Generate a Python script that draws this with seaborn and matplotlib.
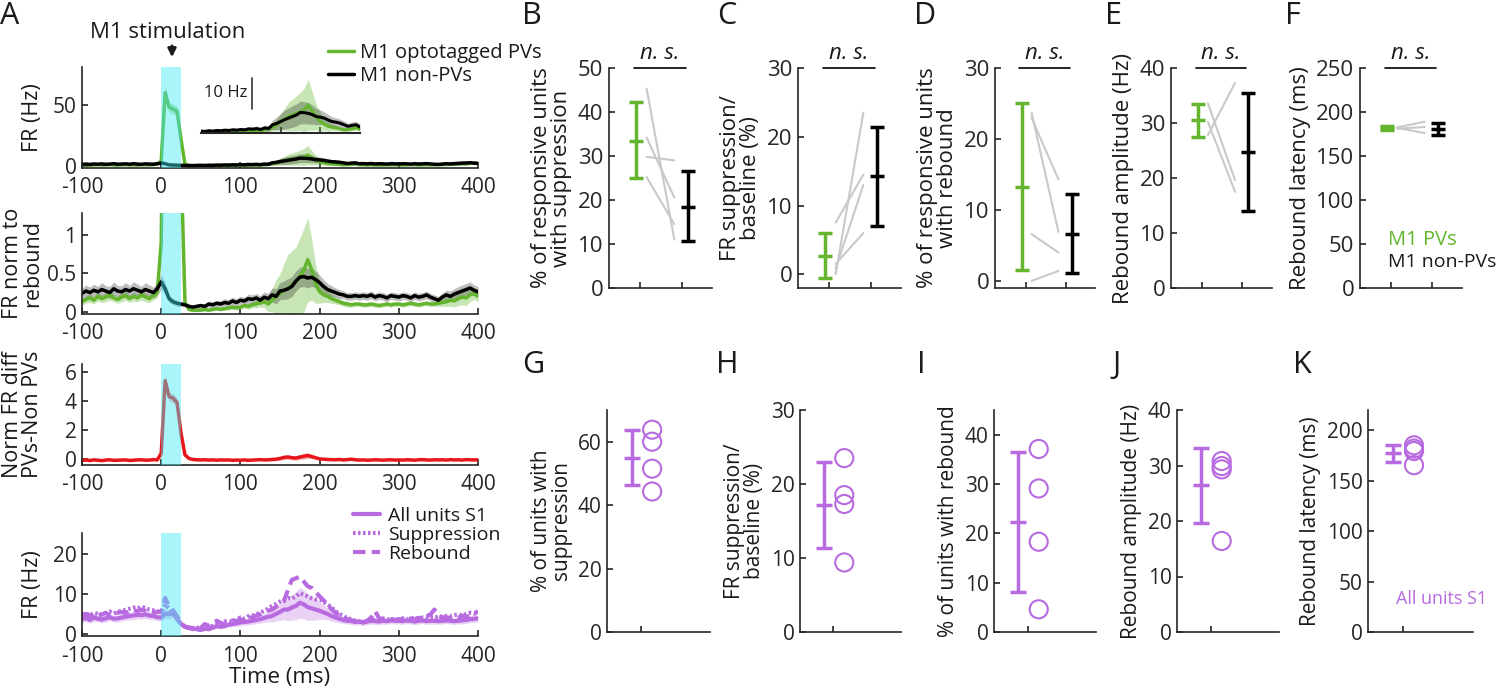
import numpy as np
import pandas as pd
import matplotlib
matplotlib.use("Agg")
import matplotlib.pyplot as plt
import seaborn as sns

# time bins (ms), 5 ms resolution
t_ms = np.arange(-100, 405, 5)

# ---- panel A, top: FR (Hz) of M1 PVs / non-PVs ----
fr_pv = [0.8, 1.0, 0.7, 0.9, 1.1, 0.8, 1.0, 1.2, 0.9, 0.8,
         1.0, 1.1, 0.9, 1.0, 0.8, 1.1, 1.0, 0.9, 1.2, 1.5,
         4.0, 60.0, 48.0, 46.5, 45.0, 22.0, 1.5, 0.3, 0.2, 0.2,
         0.2, 0.3, 0.2, 0.3, 0.3, 0.4, 0.4, 0.5, 0.6, 0.5,
         0.6, 0.7, 0.6, 0.8, 0.7, 0.9, 1.0, 1.3, 1.8, 2.5,
         3.6, 4.3, 5.2, 5.7, 6.2, 6.8, 7.3, 8.9, 6.8, 5.0,
         3.6, 2.8, 2.1, 1.8, 1.6, 1.3, 1.0, 1.1, 1.3, 1.6,
         1.1, 1.0, 0.9, 1.0, 0.9, 0.8, 0.9, 1.0, 0.9, 1.0,
         1.0, 0.9, 1.0, 1.1, 1.0, 0.9, 1.0, 1.1, 1.0, 1.0,
         1.1, 1.2, 1.3, 1.5, 1.4, 1.7, 1.9, 1.8, 2.2, 2.4,
         2.0]
fr_pv_sem = [0.4, 0.4, 0.3, 0.4, 0.5, 0.4, 0.4, 0.5, 0.4, 0.4,
             0.4, 0.5, 0.4, 0.4, 0.4, 0.5, 0.4, 0.4, 0.5, 0.6,
             1.0, 6.0, 4.0, 4.0, 4.0, 3.0, 0.8, 0.2, 0.2, 0.2,
             0.2, 0.2, 0.2, 0.2, 0.2, 0.3, 0.3, 0.3, 0.3, 0.3,
             0.3, 0.4, 0.4, 0.4, 0.4, 0.5, 0.6, 0.8, 1.2, 1.8,
             2.5, 3.5, 4.5, 5.0, 5.5, 6.0, 7.0, 8.0, 6.0, 4.0,
             3.0, 2.0, 1.5, 1.0, 0.8, 0.7, 0.6, 0.6, 0.6, 0.6,
             0.5, 0.5, 0.5, 0.5, 0.5, 0.5, 0.5, 0.5, 0.5, 0.5,
             0.5, 0.5, 0.5, 0.5, 0.5, 0.5, 0.5, 0.5, 0.5, 0.5,
             0.6, 0.7, 0.8, 0.9, 0.9, 1.0, 1.1, 1.1, 1.0, 0.9,
             0.8]
fr_non = [1.4, 1.6, 1.3, 1.7, 1.5, 1.8, 1.4, 1.6, 1.9, 1.5,
          1.6, 1.8, 1.5, 1.9, 1.6, 1.4, 1.8, 1.6, 1.5, 1.9,
          2.5, 1.9, 1.0, 0.8, 0.7, 0.6, 0.5, 0.5, 0.4, 0.5,
          0.6, 0.5, 0.7, 0.6, 0.8, 0.7, 0.9, 0.8, 1.0, 0.9,
          1.1, 1.0, 1.3, 1.2, 1.4, 1.1, 1.6, 1.4, 2.6, 3.0,
          3.6, 4.2, 4.7, 5.2, 5.7, 6.5, 6.4, 6.2, 5.8, 5.2,
          5.0, 4.7, 4.1, 3.6, 3.4, 3.1, 2.6, 2.1, 2.4, 2.6,
          1.9, 2.0, 1.8, 2.1, 1.7, 1.9, 1.8, 1.6, 1.9, 1.8,
          1.7, 1.9, 1.8, 1.6, 1.9, 1.7, 1.8, 2.0, 1.7, 1.5,
          1.3, 1.6, 1.9, 1.7, 2.0, 2.2, 2.4, 2.5, 2.7, 2.4,
          2.2]
fr_non_sem = [0.8, 0.9, 0.8, 0.9, 0.8, 1.0, 0.8, 0.9, 1.0, 0.8,
              0.9, 1.0, 0.8, 1.0, 0.9, 0.8, 1.0, 0.9, 0.8, 1.0,
              1.1, 0.9, 0.5, 0.4, 0.4, 0.3, 0.3, 0.3, 0.3, 0.3,
              0.4, 0.3, 0.4, 0.4, 0.5, 0.4, 0.5, 0.5, 0.6, 0.5,
              0.6, 0.6, 0.7, 0.7, 0.8, 0.7, 0.9, 0.9, 1.5, 2.0,
              2.5, 3.0, 3.2, 3.4, 3.5, 3.6, 3.5, 3.4, 3.0, 2.6,
              2.3, 2.0, 1.8, 1.5, 1.4, 1.3, 1.2, 1.0, 1.1, 1.1,
              0.9, 0.9, 0.9, 1.0, 0.9, 0.9, 0.9, 0.8, 0.9, 0.9,
              0.9, 0.9, 0.9, 0.8, 0.9, 0.9, 0.9, 1.0, 0.9, 0.8,
              0.8, 0.9, 1.0, 1.0, 1.1, 1.2, 1.2, 1.3, 1.3, 1.2,
              1.1]

# ---- panel A, 2nd: FR normalised to rebound ----
norm_pv = [0.13, 0.16, 0.18, 0.15, 0.20, 0.17, 0.19, 0.22, 0.18, 0.16,
           0.19, 0.21, 0.17, 0.20, 0.18, 0.22, 0.19, 0.17, 0.21, 0.25,
           0.9, 5.8, 4.6, 4.4, 4.2, 2.0, 0.12, 0.03, 0.02, 0.02,
           0.02, 0.03, 0.02, 0.03, 0.04, 0.03, 0.04, 0.05, 0.06, 0.05,
           0.06, 0.08, 0.07, 0.09, 0.10, 0.12, 0.13, 0.10, 0.15, 0.20,
           0.24, 0.28, 0.30, 0.35, 0.39, 0.46, 0.54, 0.68, 0.55, 0.36,
           0.26, 0.22, 0.20, 0.17, 0.15, 0.13, 0.11, 0.10, 0.09, 0.10,
           0.10, 0.09, 0.09, 0.10, 0.09, 0.08, 0.09, 0.10, 0.09, 0.10,
           0.10, 0.09, 0.10, 0.11, 0.10, 0.09, 0.10, 0.11, 0.10, 0.10,
           0.11, 0.12, 0.13, 0.15, 0.14, 0.17, 0.19, 0.18, 0.22, 0.24,
           0.20]
norm_pv_sem = [0.05, 0.05, 0.06, 0.05, 0.06, 0.05, 0.06, 0.07, 0.05, 0.05,
               0.06, 0.06, 0.05, 0.06, 0.05, 0.07, 0.06, 0.05, 0.06, 0.07,
               0.1, 0.6, 0.4, 0.4, 0.4, 0.3, 0.05, 0.02, 0.02, 0.02,
               0.02, 0.02, 0.02, 0.02, 0.02, 0.02, 0.02, 0.03, 0.03, 0.03,
               0.03, 0.03, 0.04, 0.04, 0.05, 0.06, 0.08, 0.10, 0.15, 0.22,
               0.25, 0.35, 0.45, 0.45, 0.45, 0.50, 0.55, 0.55, 0.40, 0.25,
               0.15, 0.10, 0.08, 0.06, 0.05, 0.04, 0.04, 0.04, 0.03, 0.03,
               0.03, 0.03, 0.03, 0.03, 0.03, 0.03, 0.03, 0.03, 0.03, 0.03,
               0.03, 0.03, 0.03, 0.03, 0.03, 0.03, 0.03, 0.03, 0.03, 0.03,
               0.04, 0.05, 0.06, 0.08, 0.08, 0.09, 0.10, 0.10, 0.09, 0.08,
               0.07]
norm_non = [0.24, 0.27, 0.25, 0.28, 0.26, 0.29, 0.27, 0.25, 0.30, 0.27,
            0.26, 0.29, 0.27, 0.30, 0.28, 0.26, 0.29, 0.27, 0.25, 0.30,
            0.39, 0.30, 0.17, 0.13, 0.11, 0.10, 0.09, 0.07, 0.06, 0.07,
            0.08, 0.07, 0.10, 0.09, 0.11, 0.10, 0.12, 0.11, 0.14, 0.12,
            0.15, 0.14, 0.17, 0.16, 0.18, 0.15, 0.19, 0.17, 0.22, 0.20,
            0.27, 0.28, 0.30, 0.33, 0.40, 0.45, 0.46, 0.44, 0.45, 0.42,
            0.38, 0.33, 0.29, 0.27, 0.25, 0.23, 0.22, 0.20, 0.20, 0.21,
            0.20, 0.21, 0.20, 0.22, 0.19, 0.21, 0.20, 0.18, 0.21, 0.20,
            0.19, 0.21, 0.20, 0.18, 0.21, 0.19, 0.20, 0.22, 0.19, 0.17,
            0.15, 0.19, 0.22, 0.20, 0.23, 0.25, 0.27, 0.29, 0.31, 0.28,
            0.26]
norm_non_sem = [0.07, 0.08, 0.07, 0.08, 0.07, 0.09, 0.07, 0.08, 0.09, 0.07,
                0.08, 0.09, 0.07, 0.09, 0.08, 0.07, 0.09, 0.08, 0.07, 0.09,
                0.10, 0.08, 0.05, 0.04, 0.04, 0.03, 0.03, 0.03, 0.03, 0.03,
                0.03, 0.03, 0.04, 0.04, 0.04, 0.04, 0.05, 0.05, 0.05, 0.05,
                0.05, 0.05, 0.06, 0.06, 0.06, 0.06, 0.07, 0.07, 0.09, 0.10,
                0.11, 0.12, 0.13, 0.13, 0.13, 0.13, 0.13, 0.13, 0.12, 0.11,
                0.10, 0.09, 0.08, 0.07, 0.06, 0.06, 0.05, 0.05, 0.05, 0.05,
                0.05, 0.05, 0.05, 0.05, 0.05, 0.05, 0.05, 0.05, 0.05, 0.05,
                0.05, 0.05, 0.05, 0.05, 0.05, 0.05, 0.05, 0.05, 0.05, 0.05,
                0.05, 0.06, 0.06, 0.07, 0.07, 0.08, 0.08, 0.08, 0.08, 0.07,
                0.07]

# ---- panel A, 3rd: normalised FR difference PVs - non-PVs ----
norm_diff = [-0.08, -0.06, -0.09, -0.05, -0.07, -0.10, -0.06, -0.04, -0.08, -0.07,
             -0.06, -0.05, -0.09, -0.07, -0.05, -0.04, -0.07, -0.06, -0.03, -0.05,
             0.4, 5.4, 4.3, 4.2, 3.9, 1.8, 0.3, 0.05, -0.02, -0.04,
             -0.05, -0.04, -0.06, -0.05, -0.07, -0.05, -0.06, -0.05, -0.08, -0.06,
             -0.07, -0.05, -0.08, -0.06, -0.05, -0.03, -0.05, -0.04, -0.02, 0.0,
             0.05, 0.12, 0.15, 0.10, 0.08, 0.14, 0.20, 0.25, 0.18, 0.10,
             0.02, 0.0, -0.02, -0.03, -0.04, -0.02, -0.05, -0.03, 0.0, -0.04,
             -0.06, -0.05, -0.07, -0.06, -0.04, -0.05, -0.07, -0.05, -0.04, -0.06,
             -0.05, -0.06, -0.04, -0.05, -0.07, -0.04, -0.03, -0.05, -0.06, -0.04,
             -0.05, -0.04, -0.06, -0.03, -0.05, -0.04, -0.06, -0.03, -0.04, -0.05,
             -0.04]
norm_diff_sem = [0.05, 0.05, 0.05, 0.05, 0.05, 0.05, 0.05, 0.05, 0.05, 0.05,
                 0.05, 0.05, 0.05, 0.05, 0.05, 0.05, 0.05, 0.05, 0.05, 0.06,
                 0.10, 0.40, 0.30, 0.30, 0.30, 0.20, 0.06, 0.04, 0.03, 0.03,
                 0.03, 0.03, 0.03, 0.03, 0.03, 0.03, 0.03, 0.03, 0.03, 0.03,
                 0.03, 0.03, 0.03, 0.03, 0.04, 0.04, 0.05, 0.06, 0.08, 0.10,
                 0.12, 0.15, 0.15, 0.15, 0.16, 0.18, 0.20, 0.20, 0.15, 0.10,
                 0.08, 0.06, 0.05, 0.04, 0.04, 0.04, 0.04, 0.04, 0.04, 0.04,
                 0.04, 0.04, 0.04, 0.04, 0.04, 0.04, 0.04, 0.04, 0.04, 0.04,
                 0.04, 0.04, 0.04, 0.04, 0.04, 0.04, 0.04, 0.04, 0.04, 0.04,
                 0.04, 0.04, 0.04, 0.04, 0.04, 0.04, 0.04, 0.04, 0.04, 0.04,
                 0.04]

# ---- panel A, bottom: S1 units (Hz) ----
s1_all = [3.7, 4.0, 3.5, 4.1, 3.8, 3.6, 3.9, 4.2, 3.8, 3.9,
          4.1, 4.3, 4.5, 4.6, 4.8, 4.7, 4.9, 4.6, 4.5, 4.2,
          4.1, 5.1, 4.9, 5.3, 3.7, 2.5, 1.8, 1.6, 1.5, 1.2,
          1.0, 1.3, 1.2, 1.6, 2.0, 1.8, 2.0, 2.3, 2.5, 2.6,
          2.9, 3.0, 3.1, 3.3, 3.5, 3.7, 4.0, 4.3, 4.5, 5.0,
          5.5, 6.1, 6.1, 6.6, 7.0, 7.8, 7.4, 6.7, 6.4, 6.1,
          5.8, 5.4, 5.0, 4.5, 4.1, 3.8, 3.5, 3.3, 3.2, 3.0,
          3.1, 2.9, 3.1, 3.3, 3.2, 3.1, 3.3, 3.2, 3.4, 3.3,
          3.3, 3.2, 3.4, 3.3, 3.1, 3.3, 3.4, 3.2, 3.3, 3.3,
          3.2, 3.3, 3.4, 3.3, 3.2, 3.3, 3.4, 3.5, 3.7, 3.8,
          3.9]
s1_all_sem = [0.8, 0.9, 0.8, 0.9, 0.8, 0.8, 0.9, 0.9, 0.8, 0.9,
              0.9, 0.9, 1.0, 1.0, 1.0, 1.0, 1.0, 1.0, 0.9, 0.9,
              0.9, 1.2, 1.1, 1.1, 0.9, 0.6, 0.5, 0.5, 0.5, 0.4,
              0.4, 0.4, 0.4, 0.5, 0.6, 0.5, 0.6, 0.6, 0.7, 0.7,
              0.8, 0.8, 0.8, 0.9, 0.9, 1.0, 1.1, 1.3, 1.5, 1.8,
              2.1, 2.5, 2.8, 3.1, 3.5, 3.8, 3.6, 3.3, 3.0, 2.6,
              2.2, 1.8, 1.5, 1.3, 1.1, 1.0, 0.9, 0.8, 0.8, 0.8,
              0.8, 0.8, 0.8, 0.8, 0.8, 0.8, 0.8, 0.8, 0.8, 0.8,
              0.8, 0.8, 0.8, 0.8, 0.8, 0.8, 0.8, 0.8, 0.8, 0.8,
              0.8, 0.8, 0.8, 0.8, 0.8, 0.8, 0.9, 0.9, 0.9, 0.9,
              0.9]
s1_supp = [4.9, 5.2, 4.6, 5.3, 5.0, 4.8, 5.3, 5.6, 5.1, 5.5,
           5.8, 6.0, 6.3, 6.6, 6.4, 6.8, 6.5, 6.1, 5.9, 5.6,
           5.6, 7.4, 6.2, 4.9, 4.1, 2.5, 1.8, 1.5, 1.4, 1.6,
           1.4, 1.8, 1.6, 2.1, 2.6, 2.4, 3.1, 3.3, 3.0, 3.6,
           4.1, 3.8, 4.4, 4.6, 4.9, 5.3, 5.8, 6.3, 7.0, 7.5,
           8.1, 8.6, 9.0, 8.8, 9.4, 10.2, 9.8, 9.4, 8.9, 8.6,
           8.6, 8.0, 7.4, 6.6, 5.7, 5.0, 4.5, 3.9, 3.7, 3.3,
           3.1, 2.9, 3.2, 3.7, 3.4, 3.6, 3.9, 3.7, 3.5, 3.8,
           3.7, 3.9, 3.6, 4.1, 3.8, 4.0, 4.1, 3.9, 4.2, 4.1,
           4.3, 4.0, 4.5, 4.4, 4.7, 4.9, 4.6, 5.0, 5.3, 5.1,
           5.3]
s1_reb = [4.6, 5.0, 4.4, 5.1, 4.7, 4.9, 5.2, 4.8, 5.0, 5.3,
          5.5, 5.2, 5.8, 6.0, 5.7, 6.1, 5.8, 5.5, 5.2, 5.6,
          5.5, 9.0, 6.8, 5.9, 4.4, 2.6, 1.8, 1.5, 1.2, 1.4,
          1.5, 2.5, 2.0, 2.6, 3.3, 2.8, 2.4, 2.9, 3.4, 3.2,
          3.7, 3.5, 3.9, 4.2, 4.6, 4.9, 5.4, 5.8, 6.1, 6.8,
          7.4, 8.2, 11.0, 13.5, 13.9, 14.3, 13.1, 11.9, 11.5, 10.4,
          9.4, 8.4, 7.4, 6.2, 5.3, 4.6, 4.0, 3.7, 3.4, 3.2,
          3.0, 2.9, 3.3, 4.1, 5.7, 4.0, 3.6, 3.8, 3.7, 3.5,
          3.7, 3.6, 3.9, 3.8, 3.6, 4.0, 3.9, 4.4, 4.9, 6.1,
          4.6, 4.2, 4.1, 4.0, 4.3, 4.1, 4.5, 4.2, 4.6, 5.2,
          5.6]

# ---- panels B-F: mean, lower, upper; paired session values ----
b_pv, b_non = [33.5, 25.0, 42.2], [18.5, 10.6, 26.6]
b_pairs_pv, b_pairs_non = [45.3, 34.2, 29.8, 25.2], [11.0, 20.5, 29.0, 14.5]
c_pv, c_non = [2.6, -0.6, 6.0], [14.3, 7.0, 21.4]
c_pairs_pv, c_pairs_non = [7.5, 0.0, 0.8, 1.5], [14.5, 23.5, 13.0, 6.0]
d_pv, d_non = [13.3, 1.6, 25.0], [6.6, 1.1, 12.2]
d_pairs_pv, d_pairs_non = [23.7, 23.0, 6.6, 0.0], [6.9, 14.3, 4.0, 1.4]
e_pv, e_non = [30.5, 27.5, 33.5], [24.8, 14.0, 35.5]
e_pairs_pv, e_pairs_non = [27.8, 33.6, 30.2], [37.3, 19.6, 17.5]
f_pv, f_non = [182.0, 180.0, 184.0], [181.0, 174.0, 188.0]
f_pairs_pv, f_pairs_non = [182.5, 182.0, 181.0], [189.0, 176.0, 183.0]

# ---- panels G-K: all S1 units ----
g_s1, g_pts = [54.8, 46.2, 63.8], [63.8, 60.0, 51.5, 44.3]
h_s1, h_pts = [17.2, 11.3, 23.0], [23.5, 18.5, 17.3, 9.4]
i_s1, i_pts = [22.2, 8.2, 36.4], [37.1, 29.1, 18.3, 4.6]
j_s1, j_pts = [26.4, 19.7, 33.2], [30.8, 29.9, 29.3, 16.4]
k_s1, k_pts = [177.0, 168.7, 185.0], [185.0, 181.7, 179.3, 165.3]

GREEN = "#64b52e"
PURPLE = "#b86ae0"
RED = "#e8161b"
CYAN = "#42e9f4"
GREY = "#c9c9c9"

sns.set_theme(style="ticks")
plt.rcParams["font.family"] = ["Open Sans", "DejaVu Sans"]
plt.rcParams.update({
    "xtick.direction": "in", "ytick.direction": "in",
    "xtick.major.size": 4, "ytick.major.size": 4,
    "xtick.major.width": 1.2, "ytick.major.width": 1.2,
    "xtick.major.pad": 6.5, "ytick.major.pad": 4,
    "axes.linewidth": 1.2, "axes.edgecolor": "#262626",
    "xtick.labelsize": 16, "ytick.labelsize": 16,
    "axes.labelsize": 16, "text.color": "#1a1a1a",
    "axes.labelcolor": "#1a1a1a", "axes.unicode_minus": False,
})

W, H = 1500, 691
fig = plt.figure(figsize=(15, 6.91), dpi=100)


def px_axes(x0, y0, x1, y1):
    return fig.add_axes([x0 / W, 1 - y1 / H, (x1 - x0) / W, (y1 - y0) / H])


def trace(ax, y, sem, color, lw=2.5, shade=True, alpha=0.35, **kw):
    y = np.asarray(y)
    sem = np.asarray(sem)
    if shade:
        ax.fill_between(t_ms, y - sem, y + sem, color=color, alpha=alpha, lw=0)
    return sns.lineplot(x=t_ms, y=y, ax=ax, color=color, lw=lw, **kw)


def time_axis(ax, ylim, yticks, ylabel):
    ax.axvspan(0, 25, color=CYAN, alpha=0.45, lw=0, zorder=5)
    ax.set_xlim(-100, 400)
    ax.set_ylim(*ylim)
    ax.set_yticks(yticks)
    ax.set_xticks([-100, 0, 100, 200, 300, 400])
    ax.tick_params(labelsize=15)
    ax.set_ylabel(ylabel, linespacing=0.95, fontsize=15.5)
    sns.despine(ax=ax)


# A1
ax1 = px_axes(82, 67, 478, 168)
trace(ax1, fr_pv, fr_pv_sem, GREEN, label="M1 optotagged PVs")
trace(ax1, fr_non, fr_non_sem, "black", alpha=0.25, label="M1 non-PVs")
time_axis(ax1, (-1.6, 81), [0, 50], "FR (Hz)")
ax1.legend(loc="upper left", bbox_to_anchor=(0.6, 1.32), frameon=False,
           fontsize=14.5, handlelength=1.3, handletextpad=0.3, labelspacing=0.15,
           borderaxespad=0)

# inset with the rebound
axi = px_axes(201, 76, 360, 133)
axi.patch.set_alpha(0)
win = (t_ms >= 50) & (t_ms <= 250)
for y, s, c, a in [(fr_pv, fr_pv_sem, GREEN, 0.35), (fr_non, fr_non_sem, "black", 0.25)]:
    y = np.asarray(y)[win]
    s = np.asarray(s)[win]
    axi.fill_between(t_ms[win], y - s, y + s, color=c, alpha=a, lw=0)
    axi.plot(t_ms[win], y, color=c, lw=2.2)
axi.set_xlim(50, 250)
axi.set_ylim(0, 18)
axi.set_xticks([150, 200])
axi.set_xticklabels([])
axi.set_yticks([])
axi.spines["bottom"].set_linewidth(1.5)
for side in ["left", "top", "right"]:
    axi.spines[side].set_visible(False)
axi.plot([114, 114], [7.5, 17.5], color="#333333", lw=1.2, clip_on=False)
axi.text(108, 12.5, "10 Hz", ha="right", va="center", fontsize=12)

# A2
ax2 = px_axes(82, 213, 478, 314)
trace(ax2, norm_pv, norm_pv_sem, GREEN)
trace(ax2, norm_non, norm_non_sem, "black", alpha=0.25)
time_axis(ax2, (-0.03, 1.29), [0, 0.5, 1], "FR norm to\nrebound")
ax2.set_yticklabels(["0", "0.5", "1"])

# A3
ax3 = px_axes(82, 364, 478, 465)
trace(ax3, norm_diff, norm_diff_sem, RED, alpha=0.3)
time_axis(ax3, (-0.4, 6.55), [0, 2, 4, 6], "Norm FR diff\nPVs-Non PVs")

# A4
ax4 = px_axes(82, 533, 478, 636)
trace(ax4, s1_all, s1_all_sem, PURPLE, lw=3, alpha=0.3, label="All units S1")
trace(ax4, s1_supp, s1_all_sem, PURPLE, lw=3, shade=False, label="Suppression",
      linestyle=(0, (0.6, 0.6)))
trace(ax4, s1_reb, s1_all_sem, PURPLE, lw=3, shade=False, label="Rebound",
      linestyle=(0, (3, 1.5)))
time_axis(ax4, (-0.5, 25.2), [0, 10, 20], "FR (Hz)")
ax4.tick_params(axis="x", pad=7.5)
ax4.set_xlabel("Time (ms)", labelpad=0, fontsize=16)
ax4.legend(loc="upper left", bbox_to_anchor=(0.665, 1.33), frameon=False,
           fontsize=14, handlelength=1.4, handletextpad=0.4, labelspacing=0.05,
           borderaxespad=0)

for ax in [ax1, ax2, ax3, ax4]:
    ax.yaxis.set_label_coords(-0.098, 0.5)

# stimulation label
fig.text(168 / W, 1 - 32 / H, "M1 stimulation", ha="center", va="center", fontsize=16)
ax1.annotate("", xy=(172, H - 60), xytext=(172, H - 43), xycoords="figure pixels",
             textcoords="figure pixels",
             arrowprops=dict(arrowstyle="-|>", color="k", lw=2, mutation_scale=12))


def mean_bar(ax, x, vals, color, cap=5, ms=10):
    m, lo, hi = vals
    ax.errorbar([x], [m], yerr=[[m - lo], [hi - m]], fmt="none", ecolor=color,
                elinewidth=2.5, capsize=cap, capthick=2.5, zorder=4)
    ax.plot([x], [m], marker="_", ms=ms, mew=2.5, color=color, zorder=4)


def paired_panel(box, pv, non, pairs_pv, pairs_non, ylim, yticks, ylabel):
    ax = px_axes(*box)
    for a, b in zip(pairs_pv, pairs_non):
        sns.lineplot(x=[1.15, 1.82], y=[a, b], ax=ax, color=GREY, lw=1.5)
    mean_bar(ax, 0.9, pv, GREEN)
    mean_bar(ax, 2.15, non, "black")
    ax.set_xlim(0.24, 2.73)
    ax.set_ylim(*ylim)
    ax.set_yticks(yticks)
    ax.set_xticks([1, 2])
    ax.set_xticklabels([])
    ax.set_ylabel(ylabel, linespacing=0.95)
    sns.despine(ax=ax)
    top = ylim[1]
    ax.plot([0.85, 2.1], [top, top], color="black", lw=1.2, clip_on=False)
    ax.text(1.47, top + 0.02 * (ylim[1] - ylim[0]), "n. s.", style="italic",
            ha="center", va="bottom", fontsize=16)
    return ax


axB = paired_panel((609, 68, 712, 288), b_pv, b_non, b_pairs_pv, b_pairs_non,
                   (0, 50), [0, 10, 20, 30, 40, 50],
                   "% of responsive units\nwith suppression")
axC = paired_panel((798, 68, 901, 288), c_pv, c_non, c_pairs_pv, c_pairs_non,
                   (-2, 30), [0, 10, 20, 30], "FR suppression/\nbaseline (%)")
axD = paired_panel((995, 68, 1095, 288), d_pv, d_non, d_pairs_pv, d_pairs_non,
                   (-1, 30), [0, 10, 20, 30],
                   "% of responsive units\nwith rebound")
axE = paired_panel((1171, 68, 1272, 288), e_pv, e_non, e_pairs_pv, e_pairs_non,
                   (0, 40), [0, 10, 20, 30, 40], "Rebound amplitude (Hz)")
axF = paired_panel((1360, 68, 1462, 288), f_pv, f_non, f_pairs_pv, f_pairs_non,
                   (0, 250), [0, 50, 100, 150, 200, 250], "Rebound latency (ms)")
axF.text(0.27, 0.22, "M1 PVs", color=GREEN, transform=axF.transAxes,
         fontsize=14.5, va="center")
axF.text(0.27, 0.12, "M1 non-PVs", color="#1a1a1a", transform=axF.transAxes,
         fontsize=14, va="center")


def s1_panel(box, vals, pts, ylim, yticks, ylabel):
    ax = px_axes(*box)
    mean_bar(ax, 0.77, vals, PURPLE, cap=5.5, ms=11)
    sns.scatterplot(x=[1.27] * len(pts), y=pts, ax=ax, marker="o", s=170,
                    facecolor="none", edgecolor=PURPLE, linewidth=1.5, zorder=5)
    ax.set_xlim(0.17, 2.68)
    ax.set_ylim(*ylim)
    ax.set_yticks(yticks)
    ax.set_xticks([1])
    ax.set_xticklabels([])
    ax.set_ylabel(ylabel, linespacing=0.95, fontsize=15)
    ax.tick_params(axis="y", labelsize=15)
    sns.despine(ax=ax)
    return ax


axG = s1_panel((607, 410, 710, 632), g_s1, g_pts, (0, 70), [0, 20, 40, 60],
               "% of units with\nsuppression")
axH = s1_panel((800, 410, 901, 632), h_s1, h_pts, (0, 30), [0, 10, 20, 30],
               "FR suppression/\nbaseline (%)")
axI = s1_panel((994, 410, 1096, 632), i_s1, i_pts, (0, 45), [0, 10, 20, 30, 40],
               "% of units with rebound")
axJ = s1_panel((1177, 410, 1279, 632), j_s1, j_pts, (0, 40), [0, 10, 20, 30, 40],
               "Rebound amplitude (Hz)")
axK = s1_panel((1368, 410, 1473, 632), k_s1, k_pts, (0, 220), [0, 50, 100, 150, 200],
               "Rebound latency (ms)")
axK.text(0.27, 0.15, "All units S1", color=PURPLE, transform=axK.transAxes,
         fontsize=13, va="center")

# panel letters
letters = [("A", 10, 16), ("B", 532, 16), ("C", 727, 16), ("D", 925, 16),
           ("E", 1113, 16), ("F", 1293, 16), ("G", 533, 365), ("H", 727, 365),
           ("I", 921, 365), ("J", 1117, 365), ("K", 1302, 365)]
for lab, x, y in letters:
    fig.text(x / W, 1 - y / H, lab, ha="center", va="center", fontsize=22)

fig.savefig("out.png", dpi=100)
